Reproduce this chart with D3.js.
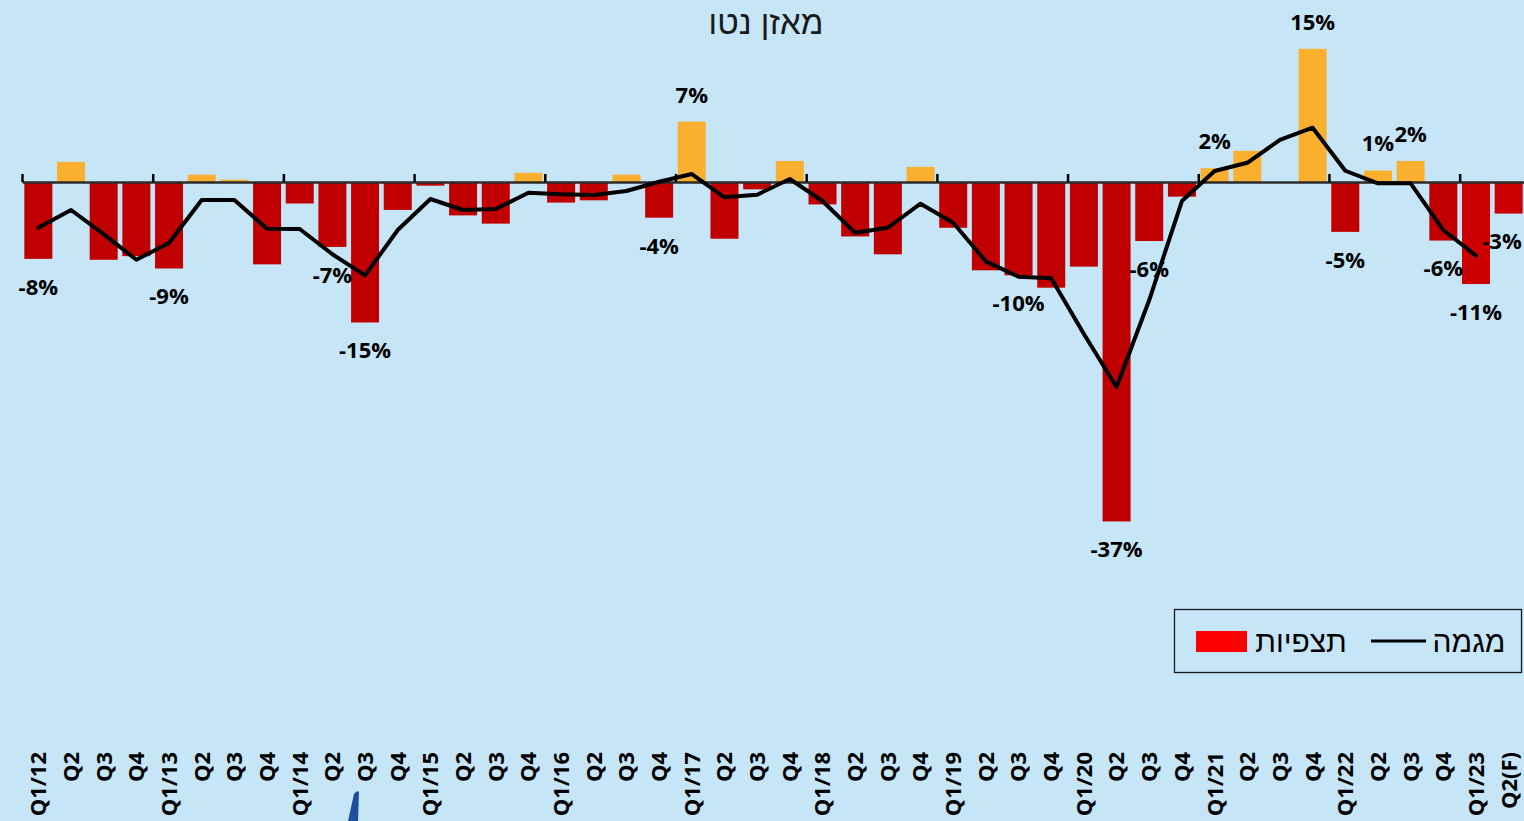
<!DOCTYPE html>
<html><head><meta charset="utf-8">
<script src="https://cdn.jsdelivr.net/npm/d3@7"></script>
<style>
html,body{margin:0;padding:0;background:#c6e5f6;overflow:hidden}
svg{display:block}
</style></head>
<body>
<svg id="chart" width="1524" height="821"></svg>
<script>
// ---------- data ----------
const quarterLabels = ["Q1/12","Q2","Q3","Q4","Q1/13","Q2","Q3","Q4","Q1/14","Q2","Q3","Q4",
  "Q1/15","Q2","Q3","Q4","Q1/16","Q2","Q3","Q4","Q1/17","Q2","Q3","Q4","Q1/18","Q2","Q3","Q4",
  "Q1/19","Q2","Q3","Q4","Q1/20","Q2","Q3","Q4","Q1/21","Q2","Q3","Q4","Q1/22","Q2","Q3","Q4",
  "Q1/23","Q2(F)"];
// net balance of expectations (%), bars
const expectations = [-8.4,2.2,-8.5,-8.1,-9.45,0.8,0.25,-9.0,-2.35,-7.1,-15.35,-3.05,
  -0.4,-3.65,-4.55,1.0,-2.25,-2.0,0.8,-3.9,6.6,-6.2,-0.8,2.3,-2.45,-5.95,-7.9,1.65,
  -5.0,-9.65,-10.2,-11.55,-9.25,-37.1,-6.45,-1.6,1.5,3.4,0,14.55,-5.45,1.25,2.3,-6.4,
  -11.15,-3.45];
// trend line (%)
const trend = [-5.0,-3.06,-5.7,-8.5,-6.67,-1.97,-1.97,-5.1,-5.14,-7.9,-10.2,-5.25,
  -1.86,-3.06,-2.95,-1.17,-1.34,-1.42,-0.98,0.03,0.87,-1.67,-1.39,0.33,-2.08,-5.54,-5.0,-2.37,
  -4.45,-8.67,-10.35,-10.52,-16.6,-22.4,-12.9,-2.08,1.2,2.1,4.6,5.93,1.23,-0.14,-0.14,-5.25,
  -8.05,null];
// indices of bars that carry a data label
const labelledBars = [0,4,9,10,19,20,30,33,34,36,39,40,41,42,43,44,45];
// indices drawn with the brighter (latest) red
const latestBars = [44,45];
const title = "מאזן נטו";
const legendBars = "תצפיות";
const legendLine = "מגמה";

// ---------- setup ----------
const svg = d3.select("#chart");
const W = 1524, H = 821;
svg.append("rect").attr("width",W).attr("height",H).attr("fill","#c6e5f6");

const idx = d3.range(quarterLabels.length);
const x = d3.scaleBand().domain(idx).range([22, 1525]).paddingInner(0.143).paddingOuter(0.0715);
const step = x.step();
const y = d3.scaleLinear().domain([-40, 20]).range([548, -1]);
const y0 = y(0);

// bars
svg.append("g").selectAll("rect").data(expectations).join("rect")
  .attr("x",(d,i)=>x(i))
  .attr("width",x.bandwidth())
  .attr("y",d=>Math.min(y(d),y0))
  .attr("height",d=>Math.abs(y(d)-y0))
  .attr("fill",(d,i)=> d>=0 ? "#fab02e" : (latestBars.includes(i) ? "#cc0000" : "#c00000"));

// category axis line with yearly ticks
const bnd = d3.scaleLinear().domain([0, quarterLabels.length]).range([22, 22+step*quarterLabels.length]);
const axisG = svg.append("g").attr("transform",`translate(0,${y0})`)
  .call(d3.axisTop(bnd).tickValues(d3.range(0,quarterLabels.length,4)).tickSize(8).tickSizeOuter(0).tickFormat(""));
axisG.select(".domain").attr("stroke","#2b2b2b").attr("stroke-width",2.5);
axisG.selectAll(".tick line").attr("stroke","#000").attr("stroke-width",2.5);

// trend line
const line = d3.line().defined(d=>d!==null).x((d,i)=>x(i)+x.bandwidth()/2).y(d=>y(d));
svg.append("path").datum(trend).attr("d",line)
  .attr("fill","none").attr("stroke","#000").attr("stroke-width",4)
  .attr("stroke-linejoin","round").attr("stroke-linecap","round");

// data labels
svg.append("g").selectAll("text").data(labelledBars).join("text")
  .attr("x",i=>Math.min(x(i)+x.bandwidth()/2, 1502))
  .attr("y",i=>expectations[i]>=0 ? y(expectations[i])-27 : y(expectations[i])+28)
  .attr("dy","0.36em")
  .attr("text-anchor","middle")
  .attr("font-family","'Open Sans', 'Liberation Sans', sans-serif")
  .attr("font-weight","bold").attr("font-size",22).attr("fill","#000")
  .text(i=>Math.round(expectations[i])+"%");

// category labels (rotated)
const labG = svg.append("g").attr("transform","translate(0,752)")
  .call(d3.axisBottom(x).tickSize(0).tickFormat(i=>quarterLabels[i]));
labG.select(".domain").remove();
labG.selectAll("text")
  .attr("transform","rotate(-90)")
  .attr("x",0).attr("y",0).attr("dy","0.36em").attr("dx",0)
  .attr("text-anchor","end")
  .attr("font-family","'Open Sans', 'Liberation Sans', sans-serif")
  .attr("font-weight","bold").attr("font-size",22).attr("fill","#000");

// title
svg.append("text").attr("x",766).attr("y",34).attr("text-anchor","middle")
  .attr("font-family","'Liberation Sans', Arial, 'DejaVu Sans', sans-serif")
  .attr("font-size",33).attr("fill","#1a1a1a").text(title);

// legend
const lg = svg.append("g");
lg.append("rect").attr("x",1174.5).attr("y",609.5).attr("width",347).attr("height",63)
  .attr("fill","none").attr("stroke","#1a1a1a").attr("stroke-width",1.3);
lg.append("rect").attr("x",1196).attr("y",631).attr("width",51).attr("height",21).attr("fill","#ff0000");
lg.append("text").attr("x",1301).attr("y",652).attr("text-anchor","middle")
  .attr("font-family","'Liberation Sans', Arial, 'DejaVu Sans', sans-serif")
  .attr("font-size",30).attr("fill","#000").text(legendBars);
lg.append("line").attr("x1",1371).attr("x2",1426).attr("y1",641).attr("y2",641)
  .attr("stroke","#000").attr("stroke-width",3.2);
lg.append("text").attr("x",1469).attr("y",652).attr("text-anchor","middle")
  .attr("font-family","'Liberation Sans', Arial, 'DejaVu Sans', sans-serif")
  .attr("font-size",30).attr("fill","#000").text(legendLine);

// small decorative stroke at the bottom (partially visible graphic)
svg.append("path").attr("d","M354,794 Q357,790 359,792 L358,821 L348,821 Z").attr("fill","#1d4f9e");
</script>
</body></html>
